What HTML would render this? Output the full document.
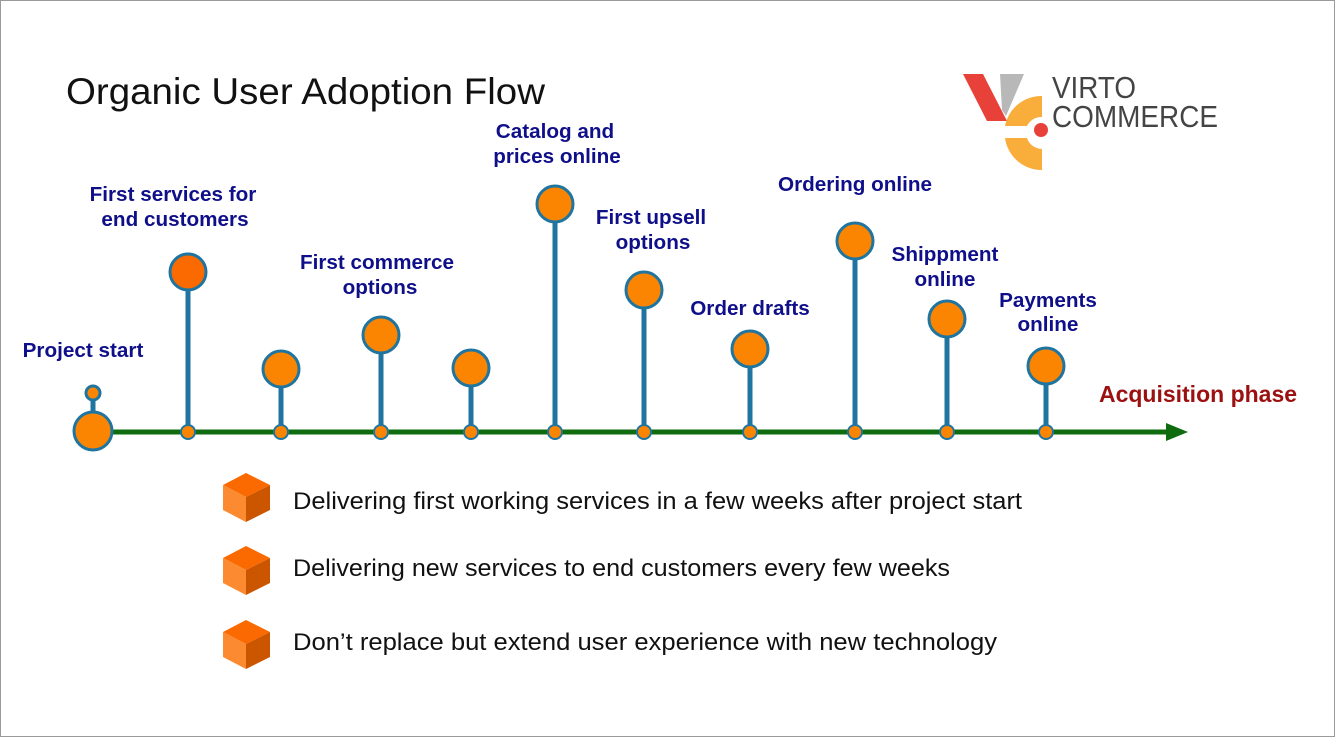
<!DOCTYPE html>
<html><head><style>
body{margin:0;background:#fff}
svg{display:block}
.l{font-family:"Liberation Sans",Arial,sans-serif;font-weight:bold;font-size:20.7px;fill:#0f0f8a;text-anchor:middle}
.b{font-family:"Liberation Sans",Arial,sans-serif;font-size:24px;fill:#111}
</style></head><body>
<svg width="1335" height="737" viewBox="0 0 1335 737">
<rect x="0.5" y="0.5" width="1334" height="736" fill="#fff" stroke="#9a9a9a"/>
<text x="66" y="104" font-family="Liberation Sans,sans-serif" font-size="37" fill="#111" textLength="479" lengthAdjust="spacingAndGlyphs">Organic User Adoption Flow</text>
<!-- logo -->
<polygon points="963,74 983,74 1007,121 987,121" fill="#e8413a"/>
<polygon points="1000,74 1024,74 1006,116 1002,110" fill="#b8b8b8"/>
<path d="M1042,96 A37,37 0 0 0 1005,126 L1027,126 A16,16 0 0 1 1042,117 Z" fill="#f9ae3c"/>
<path d="M1005,138 A37,37 0 0 0 1042,170 L1042,149 A16,16 0 0 1 1027,138 Z" fill="#f9ae3c"/>
<circle cx="1041" cy="130" r="7" fill="#e8413a"/>
<text x="1052" y="98" font-family="Liberation Sans,sans-serif" font-size="31" fill="#444" textLength="84" lengthAdjust="spacingAndGlyphs">VIRTO</text>
<text x="1052" y="127" font-family="Liberation Sans,sans-serif" font-size="31" fill="#444" textLength="166" lengthAdjust="spacingAndGlyphs">COMMERCE</text>
<!-- axis -->
<line x1="93" y1="432" x2="1172" y2="432" stroke="#0e6b0e" stroke-width="5"/>
<polygon points="1166,423 1188,432 1166,441" fill="#0e6b0e"/>
<g stroke="#1f75a0" stroke-width="5">
<line x1="93" y1="393" x2="93" y2="420"/>
<line x1="188" y1="272" x2="188" y2="432"/>
<line x1="281" y1="369" x2="281" y2="432"/>
<line x1="381" y1="335" x2="381" y2="432"/>
<line x1="471" y1="368" x2="471" y2="432"/>
<line x1="555" y1="204" x2="555" y2="432"/>
<line x1="644" y1="290" x2="644" y2="432"/>
<line x1="750" y1="349" x2="750" y2="432"/>
<line x1="855" y1="241" x2="855" y2="432"/>
<line x1="947" y1="319" x2="947" y2="432"/>
<line x1="1046" y1="366" x2="1046" y2="432"/>
</g>
<g fill="#fb8500" stroke="#1f75a0" stroke-width="3">
<circle cx="93" cy="431" r="19"/>
<circle cx="93" cy="393" r="7"/>
<circle cx="188" cy="272" r="18" fill="#fb6a00"/>
<circle cx="281" cy="369" r="18"/>
<circle cx="381" cy="335" r="18"/>
<circle cx="471" cy="368" r="18"/>
<circle cx="555" cy="204" r="18"/>
<circle cx="644" cy="290" r="18"/>
<circle cx="750" cy="349" r="18"/>
<circle cx="855" cy="241" r="18"/>
<circle cx="947" cy="319" r="18"/>
<circle cx="1046" cy="366" r="18"/>
<g stroke-width="2">
<circle cx="188" cy="432" r="7"/><circle cx="281" cy="432" r="7"/><circle cx="381" cy="432" r="7"/>
<circle cx="471" cy="432" r="7"/><circle cx="555" cy="432" r="7"/><circle cx="644" cy="432" r="7"/>
<circle cx="750" cy="432" r="7"/><circle cx="855" cy="432" r="7"/><circle cx="947" cy="432" r="7"/>
<circle cx="1046" cy="432" r="7"/>
</g>
</g>
<text class="l" x="83" y="357">Project start</text>
<text class="l" x="173" y="201">First services for</text>
<text class="l" x="175" y="226">end customers</text>
<text class="l" x="377" y="269">First commerce</text>
<text class="l" x="380" y="294">options</text>
<text class="l" x="555" y="138">Catalog and</text>
<text class="l" x="557" y="163">prices online</text>
<text class="l" x="651" y="224">First upsell</text>
<text class="l" x="653" y="249">options</text>
<text class="l" x="750" y="315">Order drafts</text>
<text class="l" x="855" y="191">Ordering online</text>
<text class="l" x="945" y="261">Shippment</text>
<text class="l" x="945" y="286">online</text>
<text class="l" x="1048" y="307">Payments</text>
<text class="l" x="1048" y="331">online</text>
<text x="1198" y="402" font-family="Liberation Sans,sans-serif" font-weight="bold" font-size="23" fill="#9b1010" text-anchor="middle">Acquisition phase</text>
<!-- cubes -->
<g id="c">
<polygon points="246,473 270,485 246,497 223,485" fill="#fb6a00"/>
<polygon points="223,485 246,497 246,522 223,510" fill="#fb8a30"/>
<polygon points="246,497 270,485 270,510 246,522" fill="#cc5500"/>
</g>
<use href="#c" y="73"/>
<use href="#c" y="147"/>
<text class="b" x="293" y="509" textLength="729" lengthAdjust="spacingAndGlyphs">Delivering first working services in a few weeks after project start</text>
<text class="b" x="293" y="576" textLength="657" lengthAdjust="spacingAndGlyphs">Delivering new services to end customers every few weeks</text>
<text class="b" x="293" y="650" textLength="704" lengthAdjust="spacingAndGlyphs">Don’t replace but extend user experience with new technology</text>
</svg>
</body></html>
